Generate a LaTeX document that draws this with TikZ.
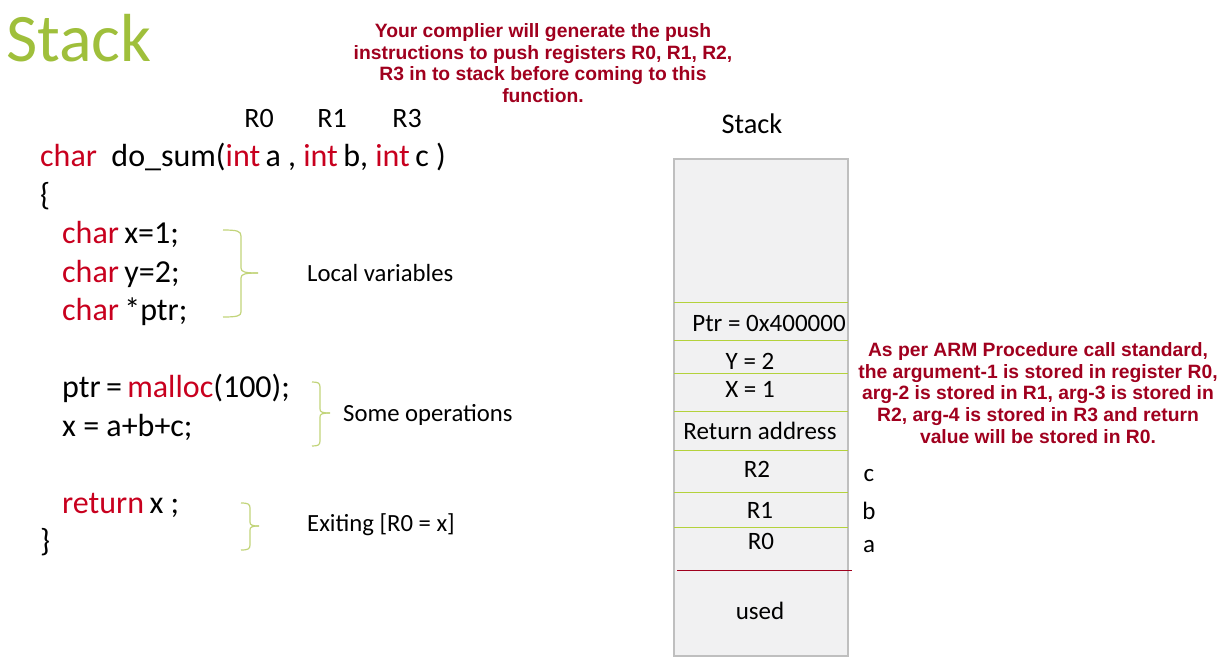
\documentclass[tikz,border=0pt]{standalone}
\usepackage{fontspec}
\setmainfont{Carlito}
\newfontfamily\notefont{Liberation Sans}
\definecolor{kw}{HTML}{C8001E}
\definecolor{notered}{HTML}{A0001E}
\definecolor{titlegreen}{HTML}{9FBF3B}
\definecolor{slotline}{HTML}{B4D23C}
\definecolor{bracegreen}{HTML}{C2D47A}
\definecolor{boxfill}{HTML}{F1F1F2}
\definecolor{boxborder}{HTML}{BFBFBF}
\definecolor{usedline}{HTML}{A0001E}
\begin{document}
\begin{tikzpicture}[x=1pt,y=-1pt,
  code/.style={anchor=base west,inner sep=0pt,font=\fontsize{32}{38}\selectfont},
  lbl/.style={anchor=base west,inner sep=0pt,font=\fontsize{24.7}{29}\selectfont},
  slot/.style={anchor=base,inner sep=0pt,font=\fontsize{25}{29}\selectfont},
  note/.style={align=center,inner sep=0pt,text=notered,font=\notefont\bfseries\fontsize{19.3}{21.7}\selectfont},
  br/.style={draw=bracegreen,line width=1.2pt},
  sl/.style={draw=slotline,line width=1pt}]
\useasboundingbox (0,0) rectangle (1226,670);
% title
\node[anchor=base west,inner sep=0pt,text=titlegreen,font=\fontsize{68}{72}\selectfont] (title) at (6,61) {Stack};
% top note
\node[note,anchor=center] (topnote) at (543,63) {Your complier will generate the push\\instructions to push registers R0, R1, R2,\\R3 in to stack before coming to this\\function.};
% register labels
\node[slot,font=\fontsize{28}{32}\selectfont] (r0) at (259,127) {R0};
\node[slot,font=\fontsize{28}{32}\selectfont] (r1) at (332,127) {R1};
\node[slot,font=\fontsize{28}{32}\selectfont] (r3) at (407,127) {R3};
% code
\node[code] (c1) at (40,166) {\textcolor{kw}{char}\ \ do\_sum(\textcolor{kw}{int}\,a , \textcolor{kw}{int}\,b, \textcolor{kw}{int}\,c )};
\node[code] (c2) at (40,205) {\{};
\node[code] (c3) at (62,243) {\textcolor{kw}{char}\,x=1;};
\node[code] (c4) at (62,282) {\textcolor{kw}{char}\,y=2;};
\node[code] (c5) at (62,320) {\textcolor{kw}{char}\,*ptr;};
\node[code] (c6) at (62,397) {ptr\,=\,\textcolor{kw}{malloc}(100);};
\node[code] (c7) at (62,436) {x = a+b+c;};
\node[code] (c8) at (62,513) {\textcolor{kw}{return}\,x ;};
\node[code] (c9) at (40,551) {\}};
% braces
\draw[br] (223,230) .. controls (237,230) and (241,231) .. (241,236) -- (241,268) .. controls (241,272) and (245,273) .. (258,273);
\draw[br] (258,273) .. controls (245,273) and (241,274) .. (241,278) -- (241,312) .. controls (241,316) and (237,317) .. (223,317);
\draw[br] (312,382) .. controls (318,382) and (320,383) .. (320,387) -- (320,409) .. controls (320,412) and (322,413) .. (330,413);
\draw[br] (330,413) .. controls (322,413) and (320,414) .. (320,417) -- (320,441) .. controls (320,445) and (318,446) .. (312,446);
\draw[br] (241,503) .. controls (248,503) and (250,504) .. (250,508) -- (250,522) .. controls (250,525) and (252,526) .. (259,526);
\draw[br] (259,526) .. controls (252,526) and (250,527) .. (250,530) -- (250,545) .. controls (250,549) and (248,550) .. (241,550);
\node[lbl] (lv) at (307,281) {Local variables};
\node[lbl] (so) at (343,421) {Some operations};
\node[lbl] (ex) at (307,531) {Exiting [R0 = x]};
% stack
\node[anchor=base,inner sep=0pt,font=\fontsize{28.4}{32}\selectfont] (stk) at (752,133) {Stack};
\draw[fill=boxfill,draw=boxborder,line width=1.5pt] (674,159) rectangle (848,656);
\draw[sl] (674,302) -- (848,302);
\draw[sl] (674,340) -- (848,340);
\draw[sl] (674,373.5) -- (848,373.5);
\draw[sl] (674,411.5) -- (848,411.5);
\draw[sl] (674,450.5) -- (848,450.5);
\draw[sl] (674,492) -- (848,492);
\draw[sl] (674,527.5) -- (848,527.5);
\draw[draw=usedline,line width=1pt] (677,570) -- (852,570);
\node[slot] (sptr) at (769,331) {Ptr = 0x400000};
\node[slot] (sy) at (750,369) {Y = 2};
\node[slot] (sx) at (750,397) {X = 1};
\node[slot] (sra) at (760,439) {Return address};
\node[slot] (sr2) at (757,477) {R2};
\node[slot] (sr1) at (760,518) {R1};
\node[slot] (sr0) at (761,549) {R0};
\node[slot] (sused) at (760,619) {used};
\node[slot] (ac) at (869,481) {c};
\node[slot] (ab) at (869,519) {b};
\node[slot] (aa) at (869,552) {a};
% right note
\node[note,anchor=center] (rnote) at (1038,393) {As per ARM Procedure call standard,\\the argument-1 is stored in register R0,\\arg-2 is stored in R1, arg-3 is stored in\\R2, arg-4 is stored in R3 and return\\value will be stored in R0.};
\end{tikzpicture}
\end{document}
